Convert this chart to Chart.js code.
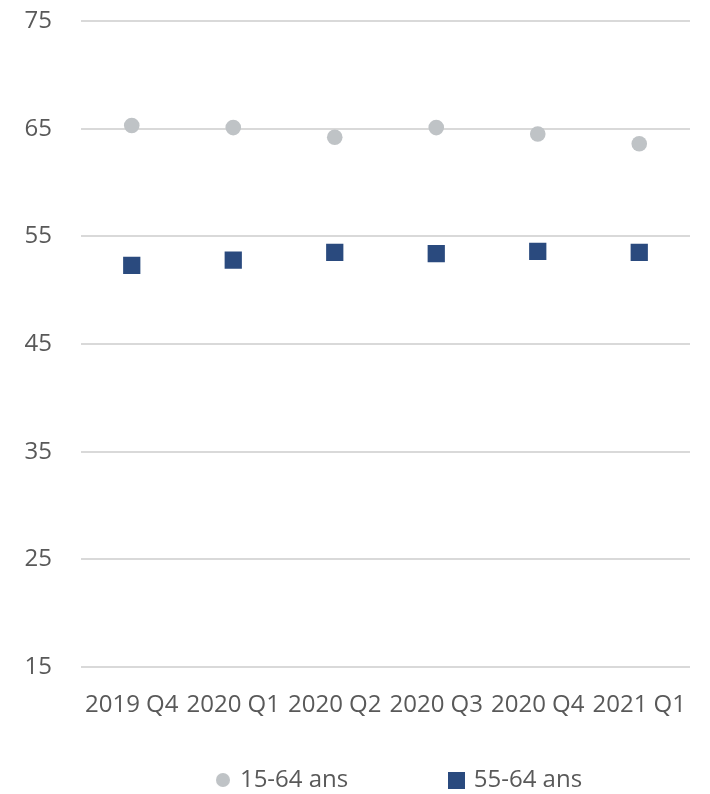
<!DOCTYPE html>
<html><head><meta charset="utf-8">
<script src="https://cdn.jsdelivr.net/npm/chart.js@4"></script>
<style>html,body{margin:0;padding:0;background:#fff}#wrap{width:710px;height:794px}</style>
</head><body><div id="wrap"><canvas id="c" width="710" height="794"></canvas></div>
<script>
const categories = ["2019 Q4","2020 Q1","2020 Q2","2020 Q3","2020 Q4","2021 Q1"];
const series1564 = [65.3, 65.1, 64.2, 65.1, 64.5, 63.6];
const series5564 = [52.3, 52.8, 53.5, 53.4, 53.6, 53.5];
const yTicks = [15, 25, 35, 45, 55, 65, 75];
const seriesNames = ["15-64 ans", "55-64 ans"];

const GRAY = '#BFC3C6', NAVY = '#2A4A7E', TXT = '#595959';
const FONT = "'Open Sans', sans-serif";

function marker(shape, color, w, h) {
  const cv = document.createElement('canvas');
  cv.width = w; cv.height = h;
  const g = cv.getContext('2d');
  g.fillStyle = color;
  if (shape === 'circle') { g.beginPath(); g.arc(w / 2, h / 2, w / 2, 0, Math.PI * 2); g.fill(); }
  else g.fillRect(0, 0, w, h);
  return cv;
}
const legendMarkers = [marker('circle', GRAY, 14, 14), marker('rect', NAVY, 17, 17)];

const shiftLegend = {
  id: 'shiftLegend',
  afterLayout(chart) {
    const lg = chart.legend;
    lg.left += 55; lg.right += 55;
    lg.top += 14; lg.bottom += 14;
  }
};

new Chart(document.getElementById('c'), {
  type: 'line',
  data: {
    labels: categories,
    datasets: [
      { label: seriesNames[0], data: series1564, showLine: false, pointStyle: 'circle', pointRadius: 7.8,
        backgroundColor: GRAY, borderColor: GRAY, borderWidth: 0, pointHoverRadius: 7.8 },
      { label: seriesNames[1], data: series5564, showLine: false, pointStyle: 'rect', pointRadius: 12.2,
        backgroundColor: NAVY, borderColor: NAVY, borderWidth: 0, pointHoverRadius: 12.2 }
    ]
  },
  plugins: [shiftLegend],
  options: {
    responsive: false, animation: false, devicePixelRatio: 1,
    layout: { padding: { left: 0, right: 20, top: 21, bottom: 6 } },
    plugins: {
      legend: {
        position: 'bottom',
        labels: {
          usePointStyle: true, color: TXT, font: { family: FONT, size: 24 }, boxWidth: 10, boxHeight: 10, padding: 10,
          generateLabels: (chart) => chart.data.datasets.map((ds, i) => ({
            text: i === 0 ? ds.label + ' '.repeat(15) : ds.label,
            pointStyle: legendMarkers[i], fillStyle: ds.backgroundColor, strokeStyle: ds.backgroundColor,
            lineWidth: 0, fontColor: TXT, hidden: false, datasetIndex: i
          }))
        }
      },
      tooltip: { enabled: false }
    },
    scales: {
      x: { offset: true, grid: { display: false, drawTicks: false }, border: { display: false },
           ticks: { color: TXT, font: { family: FONT, size: 24 }, maxRotation: 0, autoSkip: false, padding: 23.6 },
           afterFit: s => { s.height = 77; s.paddingLeft = 0; s.paddingRight = 0; } },
      y: { min: 15, max: 75, afterBuildTicks: ax => { ax.ticks = yTicks.map(v => ({ value: v })); },
           grid: { color: '#D9D9D9', lineWidth: 2, drawTicks: false }, border: { display: false },
           ticks: { color: TXT, font: { family: FONT, size: 24 }, padding: 29 },
           afterFit: s => { s.width = 81; s.paddingTop = 0; s.paddingBottom = 0; } }
    }
  }
});
</script></body></html>
